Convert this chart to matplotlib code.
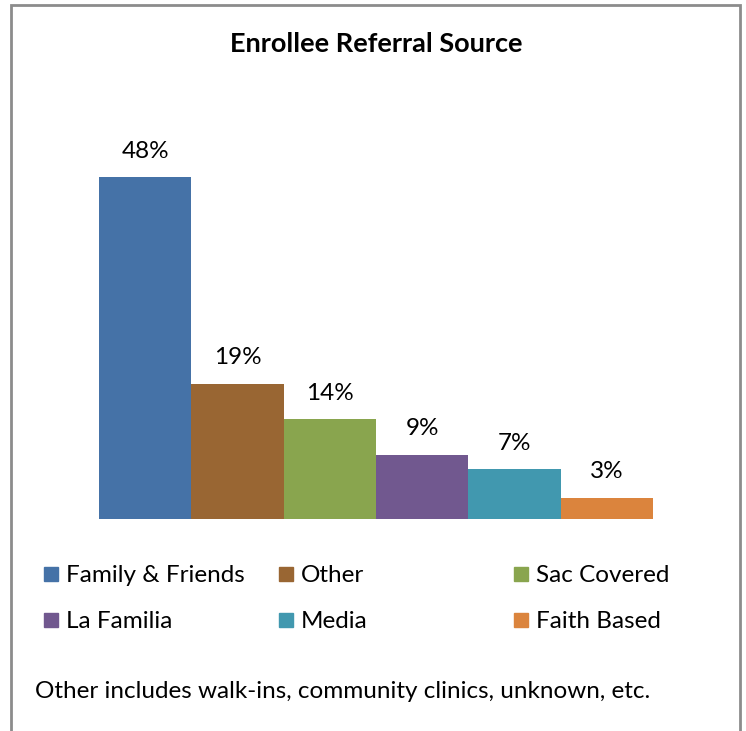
import matplotlib
matplotlib.use("Agg")
import matplotlib.pyplot as plt
from matplotlib.patches import Rectangle

plt.rcParams['font.family'] = ['Lato', 'DejaVu Sans']

# data
categories = ['Family & Friends', 'Other', 'Sac Covered', 'La Familia', 'Media', 'Faith Based']
values = [48, 19, 14, 9, 7, 3]
colors = ['#4572A7', '#996633', '#89A54E', '#71588F', '#4198AF', '#DB843D']
title = 'Enrollee Referral Source'
note = 'Other includes walk-ins, community clinics, unknown, etc.'

W, H = 746, 731
fig = plt.figure(figsize=(W / 100, H / 100), dpi=100)

# outer chart frame (bottom edge is cut off in the original)
fig.add_artist(Rectangle((11 / W, -0.05), (740 - 11) / W, (H - 5) / H + 0.05,
                         transform=fig.transFigure, fill=False,
                         edgecolor='#8c8c8c', linewidth=2))

ax = fig.add_axes([99 / W, (H - 519) / H, 554 / W, 356.25 / H])
x = range(len(values))
ax.bar(x, values, width=1.0, color=colors)
ax.set_xlim(-0.5, len(values) - 0.5)
ax.set_ylim(0, 50)
ax.axis('off')

for i, v in enumerate(values):
    ax.annotate('{}%'.format(v), (i, v), xytext=(0, 14), textcoords='offset points',
                ha='center', va='baseline', fontsize=17.5)

fig.text(376 / W, 1 - 44 / H, title, ha='center', va='center',
         fontsize=19.5, fontweight='bold')

# legend laid out like the original: 3 columns, 2 rows
col_x = [44, 279, 514]
row_y = [574, 620]
for k, (name, c) in enumerate(zip(categories, colors)):
    cx = col_x[k % 3]
    cy = row_y[k // 3]
    fig.add_artist(Rectangle((cx / W, 1 - (cy + 7) / H), 14 / W, 14 / H,
                             transform=fig.transFigure, color=c))
    fig.text((cx + 22) / W, 1 - (cy + 8) / H, name, ha='left', va='baseline',
             fontsize=17.5)

fig.text(35 / W, 1 - 698 / H, note, ha='left', va='baseline', fontsize=17.5)

fig.savefig('out.png', dpi=100)
